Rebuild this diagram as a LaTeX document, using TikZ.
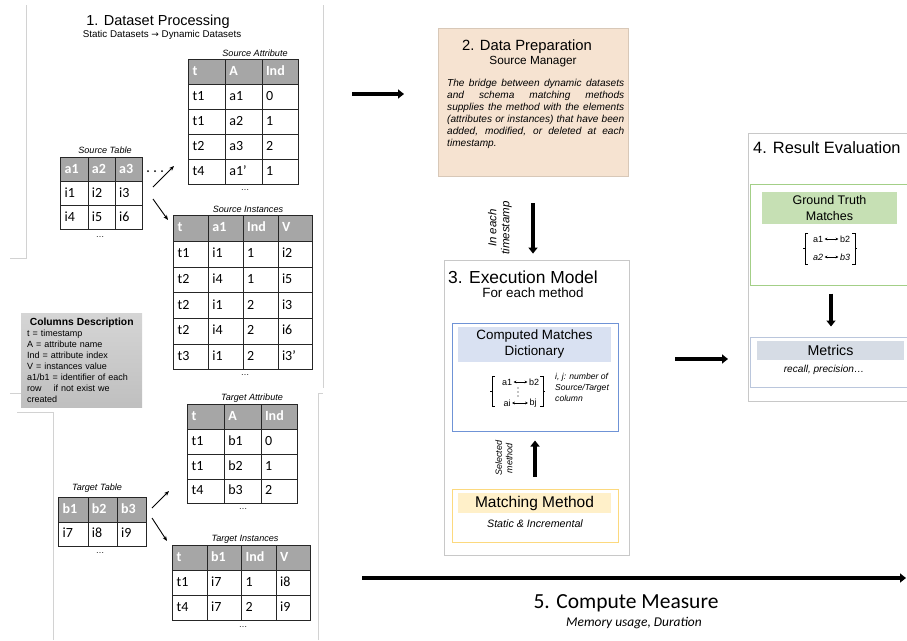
\documentclass[tikz,border=0pt]{standalone}
\usepackage{fontspec}
\setmainfont{Liberation Sans}
\newfontfamily\cellfont{Carlito}
\newfontfamily\symfont{DejaVu Sans}
\usetikzlibrary{matrix,positioning,arrows.meta}

\definecolor{hdrgray}{HTML}{A6A6A6}
\definecolor{framegray}{HTML}{D2D2D2}
\definecolor{secgray}{HTML}{C8C8C8}
\definecolor{prepfill}{HTML}{F6E3D1}
\definecolor{prepdraw}{HTML}{D8C8B8}
\definecolor{cmdraw}{HTML}{6F93D6}
\definecolor{cmband}{HTML}{D9E1F2}
\definecolor{mmdraw}{HTML}{FCD97E}
\definecolor{mmband}{HTML}{FFF0C9}
\definecolor{gtdraw}{HTML}{A3CF87}
\definecolor{gtband}{HTML}{C6E0B4}
\definecolor{mtdraw}{HTML}{BAC6DC}
\definecolor{mtband}{HTML}{D6DCE5}

\tikzset{
  tbl/.style 2 args={matrix of nodes, anchor=north west, inner sep=0pt, row sep=-0.8pt, column sep=-0.8pt,
    nodes={draw=black!85, line width=0.8pt, anchor=center, text width=#1, minimum height=#2,
      text height=9.5pt, text depth=2.5pt,
      inner xsep=4pt, inner ysep=0pt, align=left, font=\cellfont\fontsize{14}{14}\selectfont},
    row 1/.style={nodes={fill=hdrgray, text=white, font=\cellfont\bfseries\fontsize{14}{14}\selectfont}}},
  tbltitle/.style={font=\itshape\fontsize{9.1}{10}\selectfont, inner sep=0pt},
  moredots/.style={font=\fontsize{8.5}{8}\selectfont, inner sep=0pt},
  frame/.style={draw=framegray, line width=0.8pt},
  section/.style={draw=secgray, line width=0.8pt, inner sep=0pt},
  band/.style={inner sep=0pt, align=center},
  bigarrow/.style={line width=3.6pt, -{Triangle[length=6pt,width=9pt]}},
  thinarrow/.style={line width=0.9pt, -{Stealth[length=5pt,width=4pt]}},
  tinyarrow/.style={line width=0.4pt, {Stealth[length=2.6pt,width=2.6pt]}-{Stealth[length=2.6pt,width=2.6pt]}, shorten <=0.5pt, shorten >=0.5pt},
  entry/.style={font=\fontsize{9}{9}\selectfont, inner sep=1pt},
}

\begin{document}
\begin{tikzpicture}[x=1pt, y=-1pt, >=Stealth]
\useasboundingbox (0,0) rectangle (907,640);

% light frames behind section 1
\draw[frame] (26,5) -- (26,258) -- (10,258);
\draw[frame] (323,5) -- (323,388);
\draw[frame] (10,393) -- (21,393);
\draw[frame] (318,640) -- (318,393) -- (323,393);
\draw[frame] (17,412) -- (53,412) -- (53,640);

% 1. Dataset Processing
\node[font=\fontsize{14.5}{16}\selectfont] (dsp) at (158,22) {1. Dataset Processing};
\node[font=\fontsize{9.8}{11}\selectfont] (dspsub) at (162,35) {Static Datasets {\symfont\fontsize{9}{11}\selectfont →} Dynamic Datasets};

\node[tbltitle] (srctabtitle) at (105,150) {Source Table};
\matrix (srctab) [tbl={19.3pt}{24pt}] at (60,157) {
  a1 & a2 & a3 \\
  i1 & i2 & i3 \\
  i4 & i5 & i6 \\
};
\node[moredots] (srctabdots) at (100,237) {\dots};
\foreach \x in {148,155,162}
    \fill (\x,171) circle (1pt);

\node[tbltitle] (srcattrtitle) at (255,53) {Source Attribute};
\matrix (srcattr) [tbl={28.7pt}{25pt}] at (188,59) {
  t & A & Ind \\
  t1 & a1 & 0 \\
  t1 & a2 & 1 \\
  t2 & a3 & 2 \\
  t4 & a1’ & 1 \\
};
\node[moredots] (srcattrdots) at (245,190) {\dots};

\node[tbltitle] (srcinsttitle) at (248,209) {Source Instances};
\matrix (srcinst) [tbl={26.8pt}{25.7pt}] at (173,215) {
  t & a1 & Ind & V \\
  t1 & i1 & 1 & i2 \\
  t2 & i4 & 1 & i5 \\
  t2 & i1 & 2 & i3 \\
  t2 & i4 & 2 & i6 \\
  t3 & i1 & 2 & i3’ \\
};
\node[moredots] (srcinstdots) at (245,375) {\dots};

\coordinate (sa-from) at (153,187);
\coordinate (sa-to) at (174,166);
\coordinate (si-from) at (153,199);
\coordinate (si-to) at (168,220);
\draw[thinarrow] (sa-from) -- (sa-to);
\draw[thinarrow] (si-from) -- (si-to);

\node[tbltitle] (tgtabtitle) at (97,488) {Target Table};
\matrix (tgtab) [tbl={21.3pt}{24.5pt}] at (58,497) {
  b1 & b2 & b3 \\
  i7 & i8 & i9 \\
};
\node[moredots] (tgtabdots) at (100,553) {\dots};

\node[tbltitle] (tgattrtitle) at (252,398) {Target Attribute};
\matrix (tgattr) [tbl={28.7pt}{24.8pt}] at (187,404) {
  t & A & Ind \\
  t1 & b1 & 0 \\
  t1 & b2 & 1 \\
  t4 & b3 & 2 \\
};
\node[moredots] (tgattrdots) at (243,509) {\dots};

\node[tbltitle] (tginsttitle) at (245,539) {Target Instances};
\matrix (tginst) [tbl={26.5pt}{25pt}] at (172,545) {
  t & b1 & Ind & V \\
  t1 & i7 & 1 & i8 \\
  t4 & i7 & 2 & i9 \\
};
\node[moredots] (tginstdots) at (243,627) {\dots};

\coordinate (ta-from) at (152,508);
\coordinate (ta-to) at (169,491);
\coordinate (ti-from) at (152,518);
\coordinate (ti-to) at (167,541);
\draw[thinarrow] (ta-from) -- (ta-to);
\draw[thinarrow] (ti-from) -- (ti-to);

% columns description
\node[anchor=north west, top color=gray!33, bottom color=gray!50, inner xsep=6pt, inner ysep=3pt,
      text width=109pt, minimum height=94pt, align=left, font=\fontsize{9}{11}\selectfont] (coldesc) at (21,313)
  {\makebox[109pt][c]{\bfseries\fontsize{10.3}{11}\selectfont Columns Description}\\
   t = timestamp\\
   A = attribute name\\
   Ind = attribute index\\
   V = instances value\\
   a1/b1 = identifier of each\\
   row\hspace{12pt}if not exist we\\
   created};

% 2. Data Preparation
\node[draw=prepdraw, fill=prepfill, inner sep=0pt, minimum width=190pt, minimum height=148pt] (prep) at (533,102) {};
\node[font=\fontsize{14.8}{16}\selectfont] (preptitle) at (527,47) {2. Data Preparation};
\node[font=\fontsize{11.8}{13}\selectfont] (prepsub) at (533,62) {Source Manager};
\node[anchor=north west, inner sep=0pt, text width=177pt, align=justify, font=\itshape\fontsize{10.1}{12}\selectfont] (preptext) at (447,79)
  {\spaceskip=0pt \xspaceskip=0pt
   \makebox[177pt][s]{The bridge between dynamic datasets}\\
   \makebox[177pt][s]{and schema matching methods}\\
   \makebox[177pt][s]{supplies the method with the elements}\\
   \makebox[177pt][s]{(attributes or instances) that have been}\\
   \makebox[177pt][s]{added, modified, or deleted at each}\\
   timestamp.};

\coordinate (p1-from) at (352,94);
\coordinate (p1-to) at (404,94);
\draw[bigarrow] (p1-from) -- (p1-to);

% 3. Execution Model
\node[section, minimum width=185pt, minimum height=295pt] (exec) at (536.5,407.5) {};
\node[font=\fontsize{17.4}{19}\selectfont] (exectitle) at (523,277) {3. Execution Model};
\node[font=\fontsize{13.4}{15}\selectfont] (execsub) at (533,293) {For each method};
\draw[bigarrow, shorten <=27pt, shorten >=6pt] (prep.south) -- (prep.south |- exec.north);
\node[rotate=90, align=center, font=\itshape\fontsize{11.5}{13}\selectfont] (eachts) at (500,228) {In each\\timestamp};

\node[draw=cmdraw, line width=1pt, inner sep=0pt, minimum width=166pt, minimum height=108pt] (cm) at (535,377) {};
\node[band, fill=cmband, minimum width=153pt, minimum height=35pt, font=\fontsize{13.4}{16}\selectfont] (cmhead) at (534.5,344.5) {Computed Matches\\Dictionary};
\node[entry] (cma1) at (507,382) {a1};
\node[entry] (cmb2) at (534,382) {b2};
\node[entry] (cmai) at (507,403) {ai};
\node[entry] (cmbj) at (533,403) {bj};
\draw[tinyarrow] (cma1) -- (cmb2);
\draw[tinyarrow] (cmai) -- (cmbj);
\foreach \y in {388,392,396}
    \fill (518,\y) circle (0.7pt);
\draw[line width=0.5pt] (495,376) -- (492,376) -- (492,406) -- (495,406) (492,391) -- (490,391);
\draw[line width=0.5pt] (540,376) -- (543,376) -- (543,406) -- (540,406) (543,391) -- (545,391);
\node[anchor=north west, inner sep=0pt, align=left, font=\itshape\fontsize{8.6}{11}\selectfont] (cmnote) at (555,373)
  {i, j: number of\\Source/Target\\column};

\node[draw=mmdraw, line width=1pt, inner sep=0pt, minimum width=166pt, minimum height=53pt] (mm) at (535,515.5) {};
\node[band, fill=mmband, minimum width=153pt, minimum height=20pt, font=\fontsize{15.5}{16}\selectfont] (mmhead) at (534.5,503) {Matching Method};
\node[font=\itshape\fontsize{10.7}{12}\selectfont] (mmsub) at (535,524) {Static \& Incremental};
\draw[bigarrow, shorten <=12pt, shorten >=9pt] (mm) -- (cm);
\node[rotate=90, align=center, font=\itshape\fontsize{9}{10.5}\selectfont] (selmeth) at (504,458) {Selected\\method};

\coordinate (p3-from) at (675,359);
\coordinate (p3-to) at (728,359);
\draw[bigarrow] (p3-from) -- (p3-to);

% 4. Result Evaluation
\node[section, minimum width=164pt, minimum height=268pt] (reval) at (830,267) {};
\node[anchor=west, inner sep=0pt, font=\fontsize{16.4}{18}\selectfont] (revaltitle) at (753,148) {4. Result Evaluation};

\node[draw=gtdraw, line width=1pt, inner sep=0pt, minimum width=162pt, minimum height=101pt] (gt) at (831,234.5) {};
\node[band, fill=gtband, minimum width=135pt, minimum height=32pt, font=\fontsize{12.5}{16}\selectfont] (gthead) at (829.5,208) {Ground Truth\\Matches};
\node[entry] (gta1) at (818,239) {a1};
\node[entry] (gtb2) at (845,239) {b2};
\node[entry, font=\itshape\fontsize{9}{9}\selectfont] (gta2) at (818,257) {a2};
\node[entry, font=\itshape\fontsize{9}{9}\selectfont] (gtb3) at (845,257) {b3};
\draw[tinyarrow] (gta1) -- (gtb2);
\draw[tinyarrow] (gta2) -- (gtb3);
\draw[line width=0.5pt] (808,233) -- (805,233) -- (805,264) -- (808,264) (805,248) -- (803,248);
\draw[line width=0.5pt] (852,233) -- (855,233) -- (855,264) -- (852,264) (855,248) -- (857,248);

\node[draw=mtdraw, line width=1pt, inner sep=0pt, minimum width=162pt, minimum height=50pt] (mt) at (831,362) {};
\node[band, fill=mtband, minimum width=147pt, minimum height=19pt, font=\fontsize{14.2}{15}\selectfont] (mthead) at (830.5,350.5) {Metrics};
\node[font=\itshape\fontsize{10.1}{11}\selectfont] (mtsub) at (824,370) {recall, precision…};
\draw[bigarrow, shorten <=8pt, shorten >=10pt] (gt) -- (mt);

% 5. Compute Measure
\coordinate (cmp-from) at (362,578);
\coordinate (cmp-to) at (906,578);
\draw[bigarrow, line width=4.6pt] (cmp-from) -- (cmp-to);
\node[font=\cellfont\fontsize{21.5}{23}\selectfont] (cmptitle) at (626,603) {5. Compute Measure};
\node[font=\cellfont\itshape\fontsize{13.4}{15}\selectfont] (cmpsub) at (634,623) {Memory usage, Duration};

\end{tikzpicture}
\end{document}
